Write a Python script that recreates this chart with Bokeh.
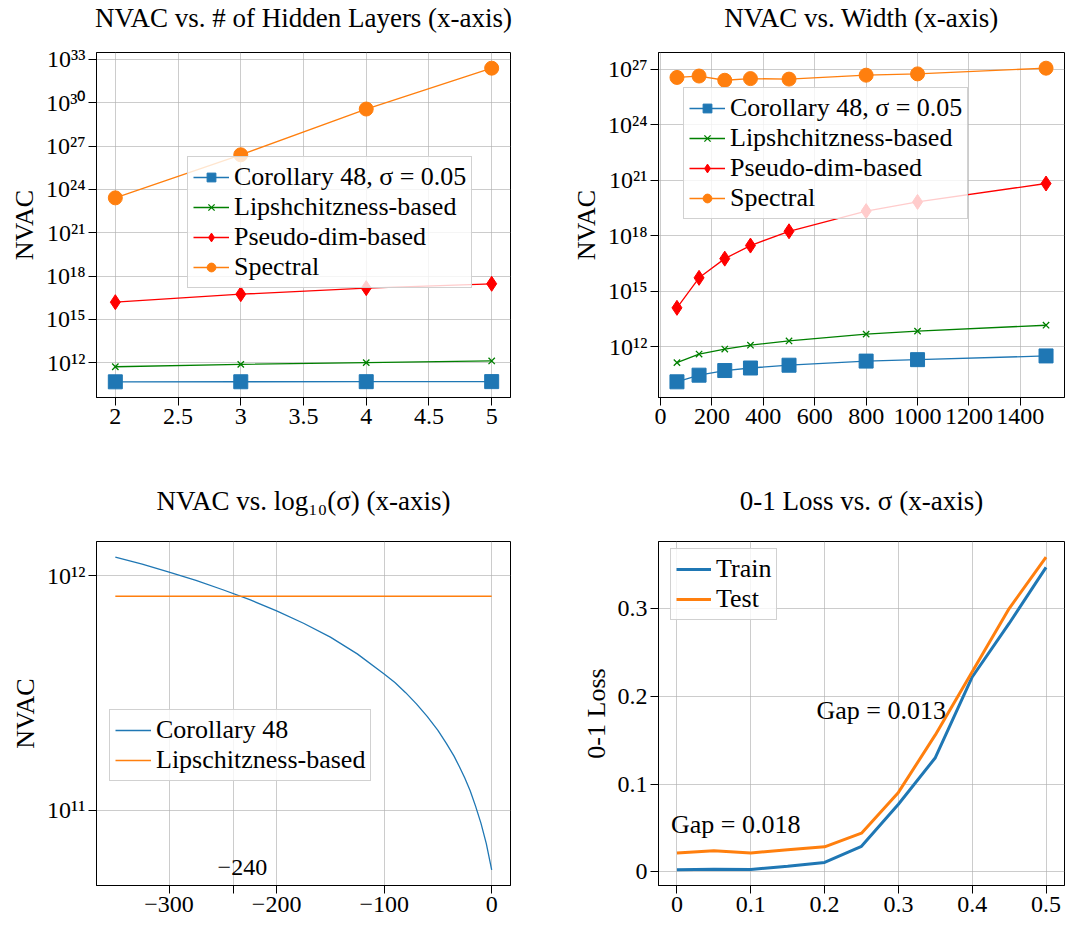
from bokeh.plotting import figure
from bokeh.layouts import gridplot
from bokeh.models import FixedTicker, CustomJSTickFormatter, Label, Range1d, Title
from bokeh.embed import file_html
from bokeh.resources import INLINE
import math

FONT = "Liberation Serif"
TICK_FS = "24px"
TEXT_FS = "26px"
TITLE_FS = "27px"
LEG_FS = "26px"

BLUE = "#1f77b4"
ORANGE = "#ff7f0e"
GREEN = "#008000"
RED = "#ff0000"

# ---------------- Panel 1: NVAC vs # hidden layers ----------------
layers = [2, 3, 4, 5]
layers_corollary = [4.7e10, 4.75e10, 4.8e10, 4.85e10]
layers_lipschitz = [5.2e11, 7.6e11, 1.0e12, 1.32e12]
layers_pseudo = [1.55e16, 5.5e16, 1.45e17, 2.9e17]
layers_spectral = [2.6e23, 2.5e26, 3.7e29, 2.5e32]
layers_xticks = [2, 2.5, 3, 3.5, 4, 4.5, 5]
layers_yticks = [1e12, 1e15, 1e18, 1e21, 1e24, 1e27, 1e30, 1e33]

# ---------------- Panel 2: NVAC vs width ----------------
widths = [64, 150, 250, 350, 500, 800, 1000, 1500]
width_corollary = [1.29e10, 2.95e10, 5.25e10, 7.2e10, 1.02e11, 1.7e11, 2.04e11, 3.24e11]
width_lipschitz = [1.41e11, 4.07e11, 7.6e11, 1.23e12, 2.09e12, 4.9e12, 7.1e12, 1.48e13]
width_pseudo = [1.29e14, 5.4e15, 5.9e16, 3.0e17, 1.78e18, 2.19e19, 6.9e19, 6.8e20]
width_spectral = [3.7e26, 4.4e26, 2.6e26, 3.2e26, 3.0e26, 4.9e26, 5.75e26, 1.17e27]
width_xticks = [0, 200, 400, 600, 800, 1000, 1200, 1400]
width_yticks = [1e12, 1e15, 1e18, 1e21, 1e24, 1e27]

# ---------------- Panel 3: NVAC vs log10(sigma) ----------------
log_sigma = [-350, -325, -300, -275, -250, -225, -200, -175, -150, -125, -100,
             -90, -80, -70, -60, -50, -42, -35, -30, -25, -20, -15, -10, -5, 0]
sigma_corollary = [1.20e12, 1.12e12, 1.035e12, 9.55e11, 8.71e11, 7.90e11, 7.08e11,
                   6.27e11, 5.47e11, 4.64e11, 3.81e11, 3.50e11, 3.17e11, 2.84e11,
                   2.51e11, 2.19e11, 1.92e11, 1.70e11, 1.53e11, 1.37e11, 1.21e11,
                   1.04e11, 8.8e10, 7.2e10, 5.56e10]
sigma_lipschitz_x = [-350, 0]
sigma_lipschitz = [8.17e11, 8.17e11]
sigma_xticks = [-300, -240, -200, -100, 0]
sigma_hidden_ticks = [-240]
sigma_yticks = [1e11, 1e12]

# ---------------- Panel 4: 0-1 loss vs sigma ----------------
sigmas = [0.0, 0.05, 0.1, 0.15, 0.2, 0.25, 0.3, 0.35, 0.4, 0.45, 0.5]
train_loss = [0.0022, 0.003, 0.0027, 0.0063, 0.0107, 0.029, 0.077, 0.130, 0.222, 0.283, 0.347]
test_loss = [0.0215, 0.0240, 0.0215, 0.0250, 0.0285, 0.044, 0.0905, 0.156, 0.228, 0.300, 0.3586]
loss_xticks = [0, 0.1, 0.2, 0.3, 0.4, 0.5]
loss_yticks = [0, 0.1, 0.2, 0.3]
gap_texts = ["Gap = 0.018", "Gap = 0.013"]
gap_x = [-0.008, 0.189]
gap_y = [0.043, 0.172]


def log_range(*arrays):
    vals = [math.log10(v) for a in arrays for v in a]
    lo, hi = min(vals), max(vals)
    pad = 0.05 * (hi - lo)
    return Range1d(10 ** (lo - pad), 10 ** (hi + pad))


def lin_range(*arrays):
    vals = [v for a in arrays for v in a]
    lo, hi = min(vals), max(vals)
    pad = 0.05 * (hi - lo)
    return Range1d(lo - pad, hi + pad)


LOG_FMT = CustomJSTickFormatter(code="""
const sup = {"0":"\u2070","1":"\u00b9","2":"\u00b2","3":"\u00b3","4":"\u2074","5":"\u2075",
             "6":"\u2076","7":"\u2077","8":"\u2078","9":"\u2079","-":"\u207b"};
const e = Math.round(Math.log10(tick));
return "10" + String(e).split("").map(c => sup[c]).join("");
""")


def lin_fmt(hidden=()):
    return CustomJSTickFormatter(args=dict(hidden=list(hidden)), code="""
for (const h of hidden) { if (Math.abs(tick - h) < 1e-9) return ""; }
const v = Math.round(tick * 1000) / 1000;
return String(v).replace("-", "\u2212");
""")


def make_fig(fw, fh, borders, y_log, x_range, y_range, title, gap):
    left, right, top, bottom = borders
    p = figure(frame_width=fw, frame_height=fh,
               y_axis_type="log" if y_log else "linear",
               x_range=x_range, y_range=y_range,
               output_backend="svg", toolbar_location=None,
               min_border_left=left, min_border_right=right,
               min_border_top=top, min_border_bottom=bottom,
               title=title)
    p.title.text_font = FONT
    p.title.text_font_size = TITLE_FS
    p.title.text_font_style = "normal"
    p.title.text_color = "black"
    p.title.align = "center"
    p.title.standoff = 0
    # spacer between the title and the frame
    p.add_layout(Title(text=" ", text_font_size="1px", standoff=gap), "above")
    p.background_fill_color = "white"
    p.border_fill_color = "white"
    p.outline_line_color = "black"
    p.outline_line_width = 1
    p.outline_line_alpha = 1
    for ax in (p.xaxis[0], p.yaxis[0]):
        ax.major_label_text_font = FONT
        ax.major_label_text_font_size = TICK_FS
        ax.major_label_text_color = "black"
        ax.axis_label_text_font = FONT
        ax.axis_label_text_font_size = TEXT_FS
        ax.axis_label_text_font_style = "normal"
        ax.axis_label_text_color = "black"
        ax.major_tick_out = 8
        ax.major_tick_in = 0
        ax.minor_tick_out = 0
        ax.minor_tick_in = 0
        ax.major_tick_line_color = "black"
        ax.axis_line_color = "black"
        ax.major_label_standoff = 3
        ax.axis_label_standoff = 4
    p.grid.grid_line_color = "#b0b0b0"
    p.grid.grid_line_alpha = 0.65
    p.grid.grid_line_width = 1
    return p


def style_legend(p, loc, glyph_w=36):
    lg = p.legend[0]
    lg.location = loc
    lg.label_text_font = FONT
    lg.label_text_font_size = LEG_FS
    lg.label_text_color = "black"
    lg.glyph_width = glyph_w
    lg.glyph_height = 22
    lg.label_standoff = 5
    lg.spacing = 0
    lg.padding = 5
    lg.margin = 0
    lg.border_line_color = "#cccccc"
    lg.border_line_alpha = 0.9
    lg.border_line_width = 1
    lg.background_fill_color = "white"
    lg.background_fill_alpha = 0.8


# ---------------- Panel 1 ----------------
p1 = make_fig(414, 345, (96, 58, 50, 86), True,
              lin_range(layers),
              log_range(layers_corollary, layers_lipschitz, layers_pseudo, layers_spectral),
              "NVAC vs. # of Hidden Layers (x-axis)", 17)
p1.xaxis.ticker = FixedTicker(ticks=layers_xticks)
p1.xaxis.formatter = lin_fmt()
p1.yaxis.ticker = FixedTicker(ticks=layers_yticks)
p1.yaxis.formatter = LOG_FMT
p1.yaxis.axis_label = "NVAC"
lab = "Corollary 48, \u03c3 = 0.05"
p1.line(layers, layers_corollary, color=BLUE, line_width=1.3, legend_label=lab)
p1.scatter(layers, layers_corollary, marker="square", size=14, color=BLUE, legend_label=lab)
lab = "Lipshchitzness-based"
p1.line(layers, layers_lipschitz, color=GREEN, line_width=1.3, legend_label=lab)
p1.scatter(layers, layers_lipschitz, marker="x", size=9, color=GREEN, line_width=1.3, legend_label=lab)
lab = "Pseudo-dim-based"
p1.line(layers, layers_pseudo, color=RED, line_width=1.3, legend_label=lab)
p1.scatter(layers, layers_pseudo, marker="diamond", size=15, color=RED, legend_label=lab)
lab = "Spectral"
p1.line(layers, layers_spectral, color=ORANGE, line_width=1.3, legend_label=lab)
p1.scatter(layers, layers_spectral, marker="circle", size=14, color=ORANGE, legend_label=lab)
style_legend(p1, (91, 109))

# ---------------- Panel 2 ----------------
p2 = make_fig(406, 345, (88, 8, 50, 86), True,
              lin_range(widths),
              log_range(width_corollary, width_lipschitz, width_pseudo, width_spectral),
              "NVAC vs. Width (x-axis)", 17)
p2.xaxis.ticker = FixedTicker(ticks=width_xticks)
p2.xaxis.formatter = lin_fmt()
p2.yaxis.ticker = FixedTicker(ticks=width_yticks)
p2.yaxis.formatter = LOG_FMT
p2.yaxis.axis_label = "NVAC"
lab = "Corollary 48, \u03c3 = 0.05"
p2.line(widths, width_corollary, color=BLUE, line_width=1.3, legend_label=lab)
p2.scatter(widths, width_corollary, marker="square", size=14, color=BLUE, legend_label=lab)
lab = "Lipshchitzness-based"
p2.line(widths, width_lipschitz, color=GREEN, line_width=1.3, legend_label=lab)
p2.scatter(widths, width_lipschitz, marker="x", size=9, color=GREEN, line_width=1.3, legend_label=lab)
lab = "Pseudo-dim-based"
p2.line(widths, width_pseudo, color=RED, line_width=1.3, legend_label=lab)
p2.scatter(widths, width_pseudo, marker="diamond", size=15, color=RED, legend_label=lab)
lab = "Spectral"
p2.line(widths, width_spectral, color=ORANGE, line_width=1.3, legend_label=lab)
p2.scatter(widths, width_spectral, marker="circle", size=14, color=ORANGE, legend_label=lab)
style_legend(p2, (25, 178))

# ---------------- Panel 3 ----------------
p3 = make_fig(414, 344, (96, 58, 56, 40), True,
              lin_range(log_sigma, sigma_lipschitz_x),
              log_range(sigma_corollary),
              "NVAC vs. log\u2081\u2080(\u03c3) (x-axis)", 23)
p3.xaxis.ticker = FixedTicker(ticks=sigma_xticks)
p3.xaxis.formatter = lin_fmt(sigma_hidden_ticks)
p3.yaxis.ticker = FixedTicker(ticks=sigma_yticks)
p3.yaxis.formatter = LOG_FMT
p3.yaxis.axis_label = "NVAC"
p3.line(log_sigma, sigma_corollary, color=BLUE, line_width=1.3, legend_label="Corollary 48")
p3.line(sigma_lipschitz_x, sigma_lipschitz, color=ORANGE, line_width=1.3,
        legend_label="Lipschitzness-based")
style_legend(p3, (13, 104))
p3.add_layout(Label(x=sigma_hidden_ticks[0], y=18, y_units="screen", x_offset=-16,
                    text="\u2212" + str(abs(sigma_hidden_ticks[0])),
                    text_align="left", text_baseline="alphabetic",
                    text_font=FONT, text_font_size=TICK_FS, text_color="black"))

# ---------------- Panel 4 ----------------
p4 = make_fig(406, 344, (88, 8, 56, 40), False,
              lin_range(sigmas),
              lin_range(train_loss, test_loss),
              "0-1 Loss vs. \u03c3 (x-axis)", 23)
p4.xaxis.ticker = FixedTicker(ticks=loss_xticks)
p4.xaxis.formatter = lin_fmt()
p4.yaxis.ticker = FixedTicker(ticks=loss_yticks)
p4.yaxis.formatter = lin_fmt()
p4.yaxis.axis_label = "0-1 Loss"
p4.line(sigmas, train_loss, color=BLUE, line_width=3, legend_label="Train")
p4.line(sigmas, test_loss, color=ORANGE, line_width=3, legend_label="Test")
style_legend(p4, (12, 265), glyph_w=35)
for t, gx, gy in zip(gap_texts, gap_x, gap_y):
    p4.add_layout(Label(x=gx, y=gy, y_offset=10, text=t, text_align="left",
                        text_baseline="alphabetic",
                        text_font=FONT, text_font_size=TEXT_FS, text_color="black"))

grid = gridplot([[p1, p2], [p3, p4]], toolbar_location=None)

open("out.html", "w").write(file_html(grid, INLINE))
